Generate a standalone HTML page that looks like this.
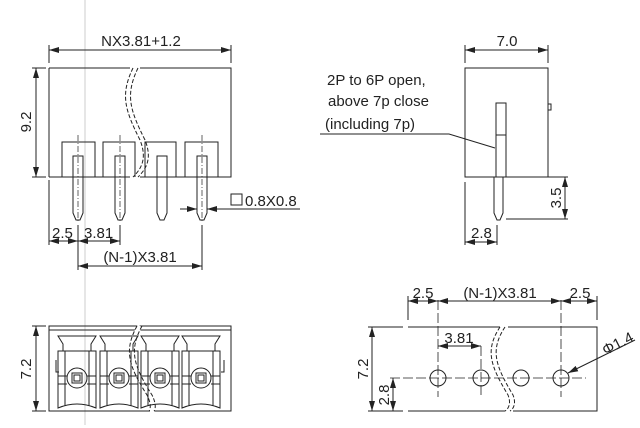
<!DOCTYPE html>
<html><head><style>html,body{margin:0;padding:0;background:#fff}svg{display:block}</style></head>
<body>
<svg width="640" height="428" viewBox="0 0 640 428" xmlns="http://www.w3.org/2000/svg" font-family="Liberation Sans, DejaVu Sans, sans-serif" font-size="15" fill="none" stroke="#222" stroke-width="1">
<defs>
<marker id="a" viewBox="0 0 10 6" refX="10" refY="3" markerWidth="10" markerHeight="6" orient="auto-start-reverse" markerUnits="userSpaceOnUse"><path d="M0,0 L10,3 L0,6 z" fill="#222" stroke="none"/></marker>
<g id="slot">
<path d="M-19,-42 L19,-42 L14,-34 L14,-27 L19,-27 L19,30 Q0,22 -19,30 L-19,-27 L-14,-27 L-14,-34 Z"/>
<path d="M-14,-27 L14,-27 M-12,-27 L-12,28 M12,-27 L12,28 M-19,-2 L-10,-2 M10,-2 L19,-2 M-19,6 L-10,6 M10,6 L19,6"/>
<circle r="10"/>
<rect x="-5" y="-5" width="10" height="10"/><rect x="-3" y="-3" width="6" height="6"/>
</g>
</defs>
<line x1="85" y1="0" x2="85" y2="425" stroke="#ccc"/>
<!-- top left -->
<g>
<path d="M49,68 H130 M140,68 H231 V177 H140 M130,177 H49 Z" />
<path d="M49,68 V177"/>
<path d="M133,68 C120,95 125,110 140,140 C148,160 140,170 133,177" stroke-dasharray="4,2"/>
<path d="M138,68 C125,95 130,110 145,140 C153,160 145,170 138,177" stroke-dasharray="4,2"/>
<path d="M62,177 V142 H95 V177 M103,177 V142 H135 V177 M145,177 V142 H176 V177 M185,177 V142 H218 V177"/>
<path d="M73,156 H83 V213 L80,220 H76 L73,213 Z M115,156 H125 V213 L122,220 H118 L115,213 Z M157,156 H167 V213 L164,220 H160 L157,213 Z M197,156 H207 V213 L204,220 H200 L197,213 Z"/>
<path d="M78,135 V222 M120,135 V222 M202,135 V222" stroke-dasharray="6,2,1,2" stroke-width="0.7"/>
<path d="M49,45 V63 M231,45 V63 M32,68 H46 M32,177 H46 M49,180 V245 M120,225 V245 M202,225 V270 M78,225 V270"/>
<line x1="49" y1="50" x2="231" y2="50" marker-start="url(#a)" marker-end="url(#a)"/>
<line x1="36" y1="68" x2="36" y2="177" marker-start="url(#a)" marker-end="url(#a)"/>
<line x1="49" y1="241" x2="78" y2="241" marker-start="url(#a)" marker-end="url(#a)"/>
<line x1="78" y1="241" x2="120" y2="241" marker-start="url(#a)" marker-end="url(#a)"/>
<line x1="78" y1="266" x2="202" y2="266" marker-start="url(#a)" marker-end="url(#a)"/>
<line x1="180" y1="209" x2="197" y2="209" marker-end="url(#a)"/>
<line x1="207" y1="209" x2="300" y2="209"/>
<path d="M207,209 L217,206 L217,212 Z" fill="#222" stroke="none"/>
<rect x="231" y="194" width="11" height="11"/>
</g>
<g fill="#222" stroke="none">
<text x="141" y="46" text-anchor="middle">NX3.81+1.2</text>
<text transform="translate(31,122) rotate(-90)" text-anchor="middle">9.2</text>
<text x="52" y="238">2.5</text><text x="84" y="238">3.81</text>
<text x="140" y="262" text-anchor="middle">(N-1)X3.81</text>
<text x="245" y="206">0.8X0.8</text>
</g>
<!-- top right -->
<path d="M465,68 H548 V177 H465 Z M548,104 H551 V110 H548"/>
<path d="M496,103 H506 V177 H496 Z M496,135 H506 M494,177 V213 L497,220 H500 L503,213 V177"/>
<path d="M465,45 V63 M548,45 V63 M465,182 V245 M497,225 V245 M506,219 H568 M548,177 H568"/>
<line x1="465" y1="50" x2="548" y2="50" marker-start="url(#a)" marker-end="url(#a)"/>
<line x1="565" y1="177" x2="565" y2="219" marker-start="url(#a)" marker-end="url(#a)"/>
<line x1="465" y1="242" x2="497" y2="242" marker-start="url(#a)" marker-end="url(#a)"/>
<path d="M320,134 H449 L495,148"/>
<g fill="#222" stroke="none">
<text x="507" y="46" text-anchor="middle">7.0</text>
<text transform="translate(561,198) rotate(-90)" text-anchor="middle">3.5</text>
<text x="471" y="238">2.8</text>
<text x="327" y="85">2P to 6P open,</text>
<text x="328" y="106">above 7p  close</text>
<text x="325" y="129">(including 7p)</text>
</g>
<!-- bottom left -->
<path d="M49,326 H231 V411 H49 Z M49,330 H231"/>
<path d="M140,326 C125,350 130,365 150,400 C155,410 152,411 150,411" stroke="#fff" stroke-width="5"/>
<use href="#slot" x="77" y="378"/><use href="#slot" x="119" y="378"/><use href="#slot" x="160" y="378"/><use href="#slot" x="201" y="378"/>
<path d="M137,326 C124,350 128,365 147,395 C152,405 150,410 149,411 M142,326 C129,350 133,365 152,395 C157,405 155,410 154,411" stroke-dasharray="4,2"/>
<path d="M56,360 V372 H59 M224,360 V372 H221"/>
<path d="M32,326 H46 M32,411 H46"/>
<line x1="36" y1="326" x2="36" y2="411" marker-start="url(#a)" marker-end="url(#a)"/>
<text transform="translate(31,369) rotate(-90)" text-anchor="middle" fill="#222" stroke="none">7.2</text>
<!-- bottom right -->
<path d="M408,327 H500 M508,327 H597 V411 H513 M505,411 H408 Z"/>
<path d="M500,327 C485,350 490,365 508,395 C512,405 507,410 505,411 M505,327 C490,350 495,365 513,395 C517,405 512,410 510,411" stroke-dasharray="4,2"/>
<circle cx="438" cy="378" r="8"/><circle cx="481" cy="378" r="8"/><circle cx="521" cy="378" r="8"/><circle cx="561" cy="378" r="8"/>
<path d="M390,378 H586 M438,300 V397 M481,346 V397 M561,300 V397" stroke-dasharray="10,3" stroke-width="0.8"/>
<path d="M408,296 V320 M597,296 V320 M368,327 H403 M368,411 H403"/>
<line x1="408" y1="301" x2="438" y2="301" marker-start="url(#a)" marker-end="url(#a)"/>
<line x1="438" y1="301" x2="561" y2="301" marker-start="url(#a)" marker-end="url(#a)"/>
<line x1="561" y1="301" x2="597" y2="301" marker-start="url(#a)" marker-end="url(#a)"/>
<line x1="438" y1="346" x2="481" y2="346" marker-start="url(#a)" marker-end="url(#a)"/>
<line x1="372" y1="327" x2="372" y2="411" marker-start="url(#a)" marker-end="url(#a)"/>
<line x1="393" y1="378" x2="393" y2="411" marker-start="url(#a)" marker-end="url(#a)"/>
<line x1="635" y1="340" x2="568" y2="373" marker-end="url(#a)"/>
<g fill="#222" stroke="none">
<text x="423" y="298" text-anchor="middle">2.5</text>
<text x="500" y="298" text-anchor="middle">(N-1)X3.81</text>
<text x="580" y="298" text-anchor="middle">2.5</text>
<text x="459" y="343" text-anchor="middle">3.81</text>
<text transform="translate(368,369) rotate(-90)" text-anchor="middle">7.2</text>
<text transform="translate(389,395) rotate(-90)" text-anchor="middle">2.8</text>
<text transform="translate(620,348) rotate(-27)" text-anchor="middle">Φ1.4</text>
</g>
</svg>
</body></html>
